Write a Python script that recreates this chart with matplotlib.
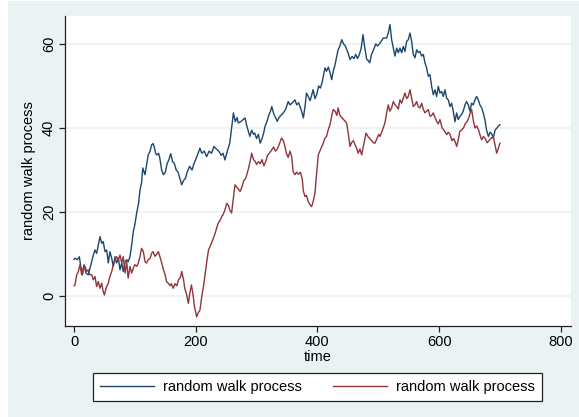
import numpy as np
import matplotlib
matplotlib.use("Agg")
import matplotlib.pyplot as plt
from matplotlib.patches import Rectangle

plt.rcParams['font.family'] = ['Liberation Sans', 'DejaVu Sans']

# first random walk (time, value)
walk1_t = [0, 1.6, 5.5, 8.8, 11, 14, 16.4, 19.7, 23.5, 26.3, 29, 31.8, 34.5, 37.2, 40, 42.7, 45.5, 48, 51, 53.7,
           56.4, 59, 62, 64.6, 67.4, 70, 73, 75.6, 78.4, 81, 84, 86.6, 89, 92, 94.8, 97.5, 100, 103, 106, 108.5,
           111, 113, 116.7, 119, 122, 125, 127.6, 130, 132, 134, 136, 139, 141, 144, 147, 150, 153, 156, 159, 162,
           165, 168, 171, 174, 177, 180, 183, 186, 190, 194, 197, 200, 204, 207, 210, 214, 218, 222, 226, 230,
           234, 238, 242, 245, 248, 252, 256, 259, 262, 265, 268, 270, 274, 278, 281, 284, 287, 289, 292, 295,
           297, 300, 303, 306, 309, 312, 314, 317, 320, 323, 325, 328, 331, 334, 337, 340, 344, 348, 352, 355,
           359, 363, 366, 369, 371, 374, 377, 380, 382, 385, 388, 390, 393, 396, 399, 402, 405, 408, 410, 412.5,
           415, 418, 421, 423.5, 426, 429, 431, 434, 437, 440, 443, 446, 450, 453.6, 457, 460, 463, 466, 469, 472,
           475, 478, 481, 484, 486, 489, 492, 496, 499, 503, 508.3, 513.8, 516.5, 519.3, 522, 524.8, 527.5, 530.3, 533, 535.7,
           538.5, 541.2, 543.9, 546.7, 549.4, 552.2, 554.9, 557.6, 560.4, 563.1, 565.9, 568.6, 571.3, 574.1, 576.8, 579.5, 582.3, 585, 587.8, 590.5,
           593.2, 596, 598.7, 601.4, 604.2, 606.9, 609.6, 612.4, 615.1, 617.9, 620.6, 623.3, 626.1, 628.8, 631.5, 634.3, 637, 639.7, 642.5, 645.2,
           648, 650.7, 653.4, 656.2, 658.9, 661.6, 664.4, 667.1, 669.9, 672.6, 675.3, 678, 681, 684, 687, 689, 692, 695, 697, 700]
walk1_v = [8.8, 9.0, 8.7, 9.4, 7.1, 5.1, 7.5, 5.5, 5.1, 6.7, 8.2, 9.8, 11.0, 10.2, 12.2, 14.2, 12.6, 13.0, 10.6, 11.0,
           7.9, 10.6, 9.0, 7.1, 9.4, 7.9, 9.0, 6.3, 7.9, 5.9, 8.2, 8.7, 8.2, 9.4, 12.2, 15.4, 17.0, 19.8, 22.0, 25.3,
           27.0, 30.5, 28.9, 31.0, 33.6, 34.5, 36.0, 36.3, 35.5, 34.0, 33.6, 34.0, 32.9, 30.0, 28.9, 29.5, 31.5, 32.5, 33.9, 32.0,
           31.5, 30.0, 29.5, 28.0, 26.5, 27.5, 28.0, 29.5, 30.9, 30.0, 31.5, 32.5, 34.0, 35.2, 34.0, 34.5, 33.2, 34.5, 34.0, 35.6,
           35.0, 34.5, 33.5, 34.0, 32.4, 34.5, 36.4, 40.0, 43.6, 41.5, 42.5, 41.2, 41.5, 42.0, 42.4, 40.5, 39.0, 38.0, 39.5, 38.5,
           38.8, 37.5, 38.5, 36.4, 37.5, 39.0, 40.4, 41.5, 43.0, 44.0, 45.1, 43.5, 42.5, 41.6, 42.5, 43.0, 43.6, 44.5, 46.3, 45.5,
           46.0, 46.7, 45.5, 46.0, 45.3, 44.0, 42.4, 45.5, 48.3, 47.5, 46.5, 47.5, 49.1, 47.0, 48.0, 50.0, 49.5, 51.0, 52.5, 54.3,
           53.5, 54.5, 53.0, 51.5, 53.5, 55.0, 56.5, 58.6, 59.5, 61.0, 60.0, 59.5, 58.0, 56.3, 57.0, 56.5, 57.5, 56.5, 57.5, 59.0,
           62.2, 59.0, 56.3, 56.0, 55.5, 57.5, 58.5, 60.0, 59.5, 60.2, 61.4, 61.4, 62.6, 64.6, 61.0, 59.0, 57.1, 59.0, 57.9, 59.0,
           57.9, 59.4, 58.2, 60.6, 61.0, 62.6, 60.6, 57.5, 56.7, 58.6, 57.9, 58.2, 57.1, 57.5, 55.5, 54.3, 52.3, 52.7, 49.9, 47.9,
           49.1, 47.5, 49.9, 48.3, 48.7, 47.5, 49.1, 47.1, 46.7, 45.1, 45.9, 44.0, 41.5, 43.6, 42.0, 42.8, 43.2, 44.0, 45.5, 46.3,
           45.5, 44.0, 45.9, 45.5, 46.7, 47.5, 46.7, 45.5, 44.8, 43.6, 42.0, 39.5, 38.0, 39.0, 38.5, 37.5, 39.5, 40.0, 40.4, 40.8]

# second random walk (time, value)
walk2_t = [0, 1.6, 4.4, 7.1, 9.9, 12.6, 15.3, 18.1, 20.8, 23.5, 26.3, 29, 31.8, 34.5, 37.2, 40, 42.7, 45.5, 48, 50,
           52.6, 56.4, 59, 62, 64.6, 67.4, 70, 73, 75.6, 78.4, 81, 84, 86.6, 89, 92, 94.8, 97.5, 100, 103, 105.6,
           108.4, 111, 114, 116.7, 119, 122, 125, 127.6, 130, 133, 136, 138.6, 141, 144, 147, 150, 152, 155, 158, 160,
           163, 166, 169, 172, 175, 177, 180, 182, 185, 188, 190, 193, 196, 198, 201.6, 204, 207, 210, 213, 215,
           218, 221, 224, 227, 229, 232, 235, 237, 240, 243, 245, 248, 251, 254, 256, 259, 262, 264.6, 267, 270,
           273, 276, 279, 282, 284, 287, 290, 292, 295, 298, 300, 303, 306, 309, 312, 315, 318, 321, 325, 328,
           331, 334, 337, 341, 344, 346.7, 349, 352, 355, 358, 360, 363, 366, 369, 372, 375, 377, 379.6, 382, 385,
           388, 390.5, 393, 396, 398, 401.5, 404, 407, 409.7, 412, 415, 418, 421, 423, 426, 429, 432, 434, 437, 440,
           443, 446, 448, 451, 453.6, 456, 459, 462, 465, 467, 470, 472.8, 476, 480, 483, 486, 489, 492, 494.6, 498,
           501, 503, 507, 511, 513.8, 516.5, 519, 522, 524.8, 527.5, 530.3, 533, 535.7, 538.5, 541, 543.9, 546.7, 549.4, 552.2, 554.9,
           557.6, 560.4, 563.1, 565.9, 568.6, 571.3, 574, 576.8, 579.5, 582.3, 585, 587.8, 590.5, 593.2, 596, 598.7, 601.4, 605, 608, 610,
           612.5, 615, 618, 621, 624, 627, 629, 632, 634, 637, 640, 643, 646, 649, 651, 653.5, 656, 659, 662, 665,
           668, 670, 673, 676, 679, 682, 685, 689, 692, 694.6, 697, 700]
walk2_v = [2.5, 2.7, 5.1, 5.9, 7.5, 5.1, 6.7, 7.1, 5.9, 6.3, 5.1, 5.1, 3.9, 4.7, 2.3, 3.5, 1.9, 3.1, 1.1, 0.3,
           1.9, 3.1, 4.7, 5.9, 7.5, 8.7, 9.4, 8.7, 9.8, 7.9, 9.4, 5.5, 8.2, 4.3, 7.1, 5.5, 6.7, 7.5, 7.1, 7.9,
           9.4, 11.4, 10.6, 8.2, 7.9, 8.7, 9.0, 10.2, 10.6, 9.5, 10.0, 10.6, 9.5, 8.0, 6.3, 5.0, 3.5, 3.1, 2.5, 3.0,
           1.9, 3.0, 2.5, 4.0, 4.5, 5.9, 4.0, 1.9, 0.5, -1.7, 0.5, 2.7, 0.0, -2.5, -4.9, -4.0, -3.3, 0.0, 2.5, 4.7,
           8.0, 11.0, 12.0, 13.0, 13.8, 15.0, 16.5, 17.4, 18.0, 19.0, 19.4, 20.5, 22.1, 21.5, 20.5, 19.8, 23.5, 26.5, 26.0, 25.5,
           24.9, 26.0, 27.5, 28.0, 28.9, 30.5, 32.5, 34.0, 32.5, 32.0, 31.3, 32.0, 31.5, 32.5, 31.0, 32.0, 33.5, 34.0, 34.8, 35.5,
           34.5, 35.0, 36.0, 37.6, 37.0, 35.6, 34.0, 33.0, 34.5, 33.0, 29.7, 28.9, 29.5, 29.0, 29.5, 28.0, 25.0, 23.7, 24.0, 22.5,
           21.7, 21.3, 22.5, 24.5, 28.0, 33.6, 34.5, 35.5, 36.4, 37.5, 38.0, 39.6, 41.0, 42.5, 44.4, 44.0, 43.0, 44.8, 43.0, 42.5,
           42.0, 41.5, 41.2, 38.5, 35.6, 36.5, 37.0, 36.0, 35.0, 34.0, 35.0, 33.6, 36.0, 38.8, 38.0, 37.5, 37.0, 36.5, 36.4, 37.5,
           38.5, 38.0, 39.5, 41.2, 43.6, 45.5, 44.0, 44.8, 46.3, 45.5, 45.1, 44.5, 46.7, 45.9, 47.0, 48.3, 47.0, 47.5, 49.1, 47.1,
           45.1, 45.5, 46.3, 45.0, 44.8, 45.9, 44.5, 43.6, 44.0, 44.4, 42.8, 43.0, 43.6, 42.5, 41.6, 41.0, 42.0, 40.0, 39.5, 39.0,
           38.4, 39.0, 38.5, 37.0, 37.5, 36.5, 35.6, 37.5, 39.2, 39.5, 40.0, 41.0, 41.5, 42.5, 43.5, 44.4, 42.0, 40.0, 40.5, 39.5,
           38.0, 37.2, 38.0, 37.5, 36.5, 37.0, 37.5, 38.0, 36.0, 34.0, 35.0, 36.4]

x_ticks = [0, 200, 400, 600, 800]
y_ticks = [0, 20, 40, 60]
legend_labels = ["random walk process", "random walk process"]

navy = "#1A476F"
maroon = "#90353B"
region = "#EAF2F3"

W, H = 579, 417
fig = plt.figure(figsize=(W / 100, H / 100), dpi=100, facecolor="white")
# shaded graph region behind everything
fig.patches.append(Rectangle((8 / W, 0), 1 - 8 / W, 1 - 1 / H, transform=fig.transFigure,
                             facecolor=region, edgecolor="none", zorder=-5))

ax = fig.add_axes([65 / W, 1 - 326 / H, (571 - 65) / W, (326 - 15.7) / H])
ax.set_facecolor("white")

l1, = ax.plot(walk1_t, walk1_v, color=navy, lw=1.0)
l2, = ax.plot(walk2_t, walk2_v, color=maroon, lw=1.0)

ax.set_xlim(-14.8, 816.8)
ax.set_ylim(-7.07, 66.7)
ax.set_xticks(x_ticks)
ax.set_yticks(y_ticks)
ax.yaxis.grid(True, color=region, lw=1.2)
ax.set_axisbelow(True)

for s in ["top", "right"]:
    ax.spines[s].set_visible(False)
for s in ["left", "bottom"]:
    ax.spines[s].set_color("#222222")
    ax.spines[s].set_linewidth(0.9)

ax.tick_params(direction="out", length=4.5, width=0.9, color="#222222", labelsize=10.5, pad=2)
plt.setp(ax.get_yticklabels(), rotation=90, va="center")

ax.set_xlabel("time", fontsize=10.5, labelpad=1)
ax.set_ylabel("random walk process", fontsize=10.5, labelpad=4)

leg = fig.legend([l1, l2], legend_labels, loc="center",
                 bbox_to_anchor=((93 + 542) / 2 / W, 1 - 387 / H),
                 ncol=2, fontsize=10.5, frameon=True, fancybox=False, framealpha=1,
                 handlelength=3.7, handletextpad=0.65, columnspacing=2.1,
                 borderpad=0.45, borderaxespad=0)
leg.get_frame().set_edgecolor("#222222")
leg.get_frame().set_linewidth(0.9)
leg.get_frame().set_facecolor("white")

fig.savefig("out.png", dpi=100, facecolor=fig.get_facecolor())
